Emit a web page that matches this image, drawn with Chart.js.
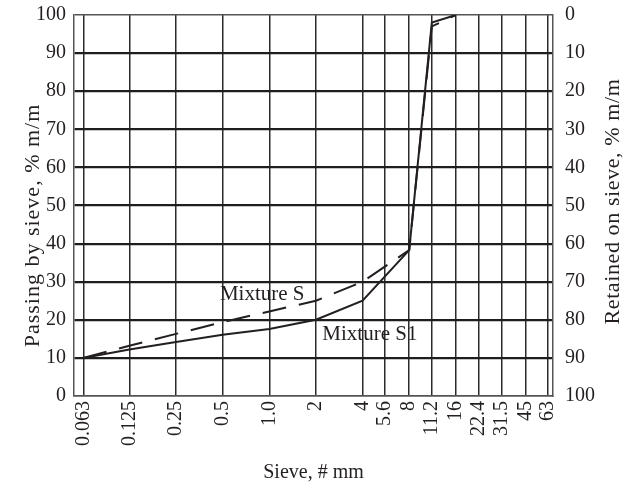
<!DOCTYPE html>
<html>
<head>
<meta charset="utf-8">
<script src="https://cdn.jsdelivr.net/npm/chart.js@4"></script>
<style>
  html, body { margin: 0; padding: 0; background: #fff; }
  #wrap { width: 623px; height: 485px; }
</style>
</head>
<body>
<div id="wrap"><canvas id="grading-chart"></canvas></div>
<script>
// sieve openings, mm
const sieveSizes = [0.063, 0.125, 0.25, 0.5, 1.0, 2, 4, 5.6, 8, 11.2, 16, 22.4, 31.5, 45, 63];
const sieveLabels = ["0.063", "0.125", "0.25", "0.5", "1.0", "2", "4", "5.6", "8", "11.2", "16", "22.4", "31.5", "45", "63"];

// grading curves (passing, % m/m)
const curveSizes = [0.063, 0.125, 0.25, 0.5, 1.0, 2, 4, 8, 11.2, 16];
const mixtureS = [10, 13.2, 16.3, 19.4, 22.2, 25, 30, 38.3, 97, 100];
const mixtureS1 = [10, 12.2, 14.2, 16.1, 17.6, 20, 25, 38.3, 98, 100];

const passingTicks = [0, 10, 20, 30, 40, 50, 60, 70, 80, 90, 100];

const ink = "#231f20";
const serif = "'Liberation Serif', 'DejaVu Serif', serif";

const toPoints = (ys) => curveSizes.map((x, i) => ({ x: x, y: ys[i] }));

// curve names written next to the lines
const curveNotes = [
  { text: "Mixture S", x: 0.48, y: 25.3 },
  { text: "Mixture S1", x: 2.2, y: 14.7 },
];

// side titles, both reading bottom to top
const sideTitles = [
  { text: "Passing by sieve, % m/m", x: 33, shift: 20, spacing: 1.0 },
  { text: "Retained on sieve, % m/m", x: 613, shift: -4, spacing: 0.6 },
];

const notesPlugin = {
  id: "notes",
  afterDatasetsDraw(chart) {
    const { ctx, scales } = chart;
    const area = chart.chartArea;
    ctx.save();
    ctx.font = "21px " + serif;
    ctx.fillStyle = ink;
    ctx.textAlign = "left";
    ctx.textBaseline = "alphabetic";
    curveNotes.forEach((n) => {
      ctx.fillText(n.text, scales.x.getPixelForValue(n.x), scales.y.getPixelForValue(n.y));
    });

    ctx.font = "22px " + serif;
    ctx.textAlign = "center";
    ctx.textBaseline = "middle";
    sideTitles.forEach((t) => {
      ctx.save();
      ctx.letterSpacing = t.spacing + "px";
      ctx.translate(t.x, (area.top + area.bottom) / 2 + t.shift);
      ctx.rotate(-Math.PI / 2);
      ctx.fillText(t.text, 0, 0);
      ctx.restore();
    });
    ctx.restore();
  },
};

const frameLine = (value) => value === 0 || value === 100;

const ctx = document.querySelector("#grading-chart");

const gradingChart = new Chart(ctx, {
  type: "line",
  data: {
    datasets: [
      {
        label: "Mixture S",
        data: toPoints(mixtureS),
        borderColor: ink,
        borderWidth: 2,
        borderDash: [24, 13],
        pointRadius: 0,
        fill: false,
        tension: 0,
      },
      {
        label: "Mixture S1",
        data: toPoints(mixtureS1),
        borderColor: ink,
        borderWidth: 2,
        pointRadius: 0,
        fill: false,
        tension: 0,
      },
    ],
  },
  options: {
    responsive: true,
    maintainAspectRatio: false,
    animation: false,
    layout: { padding: { top: 15, left: 0, right: 0, bottom: 0 } },
    plugins: {
      legend: { display: false },
      tooltip: { enabled: false },
    },
    scales: {
      x: {
        type: "logarithmic",
        min: 0.0549,
        max: 67.8,
        afterBuildTicks: (scale) => {
          scale.ticks = sieveSizes.map((v) => ({ value: v }));
        },
        afterFit: (scale) => {
          scale.height = 89;
          scale.paddingLeft = 0;
          scale.paddingRight = 0;
        },
        ticks: {
          autoSkip: false,
          minRotation: 90,
          maxRotation: 90,
          padding: 5,
          color: ink,
          font: { family: serif, size: 20 },
          callback: (value, index) => sieveLabels[index],
        },
        grid: {
          color: "#2b2b2b",
          lineWidth: 1.5,
          drawTicks: false,
        },
        border: { color: "#555", width: 1.5 },
        title: {
          display: true,
          text: "Sieve, # mm",
          color: ink,
          font: { family: serif, size: 20 },
          padding: { top: 3, bottom: 0 },
        },
      },
      y: {
        position: "left",
        min: 0,
        max: 100,
        afterBuildTicks: (scale) => {
          scale.ticks = passingTicks.map((v) => ({ value: v }));
        },
        afterFit: (scale) => {
          scale.width = 74;
          scale.paddingTop = 0;
          scale.paddingBottom = 0;
        },
        ticks: {
          padding: 8,
          color: ink,
          font: { family: serif, size: 20 },
        },
        grid: {
          color: (c) => (frameLine(c.tick && c.tick.value) ? "#555" : "#1e1e1e"),
          lineWidth: (c) => (frameLine(c.tick && c.tick.value) ? 1.5 : 2.2),
          drawTicks: false,
        },
        border: { color: "#555", width: 1.5 },
      },
      yRetained: {
        position: "right",
        reverse: true,
        min: 0,
        max: 100,
        afterBuildTicks: (scale) => {
          scale.ticks = passingTicks.map((v) => ({ value: v }));
        },
        afterFit: (scale) => {
          scale.width = 70;
          scale.paddingTop = 0;
          scale.paddingBottom = 0;
        },
        ticks: {
          padding: 12,
          color: ink,
          font: { family: serif, size: 20 },
        },
        grid: { display: false, drawTicks: false },
        border: { color: "#555", width: 1.5 },
      },
    },
  },
  plugins: [notesPlugin],
});
</script>
</body>
</html>
